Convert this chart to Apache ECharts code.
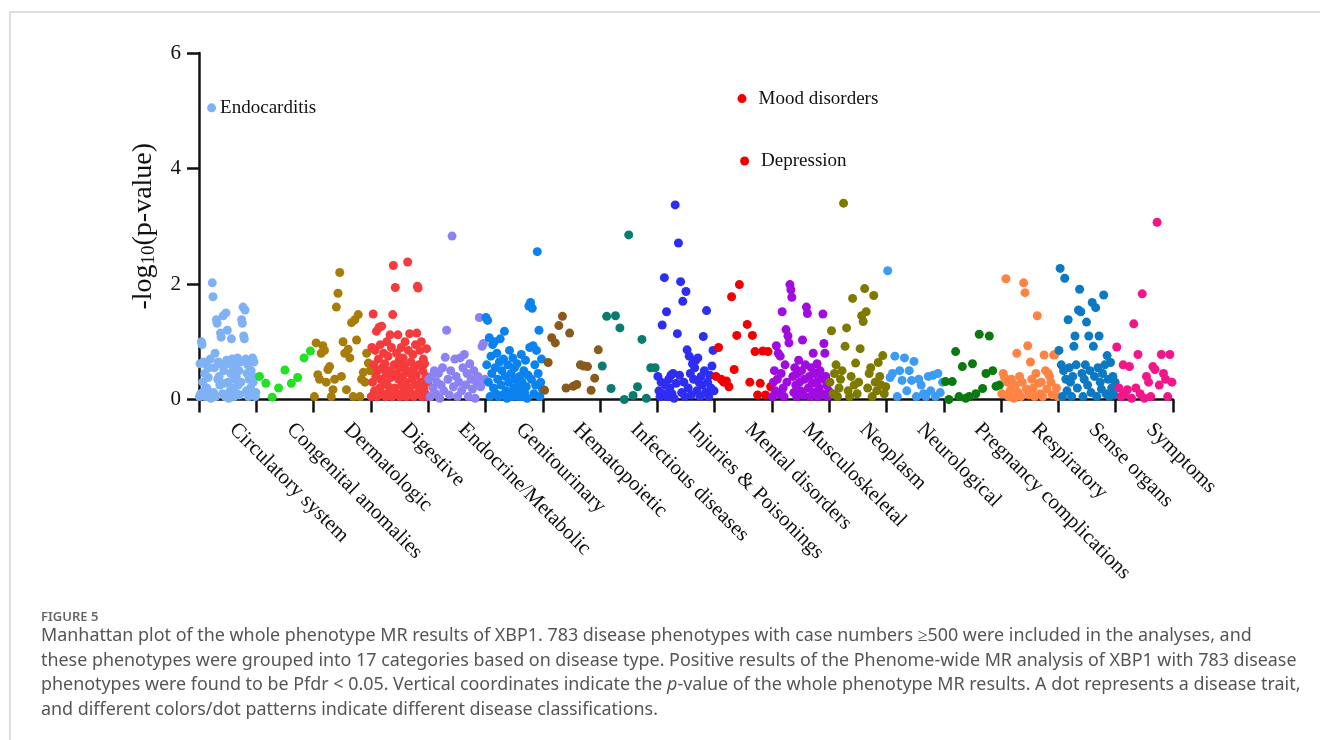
<!DOCTYPE html>
<html>
<head>
<meta charset="utf-8">
<script src="https://cdn.jsdelivr.net/npm/echarts@6/dist/echarts.min.js"></script>
<style>
html,body{margin:0;padding:0;background:#fff;}
#chart{width:1320px;height:740px;}
</style>
</head>
<body>
<div id="chart"></div>
<script>
const categories = ['Circulatory system','Congenital anomalies','Dermatologic','Digestive','Endocrine/Metabolic','Genitourinary','Hematopoietic','Infectious diseases','Injuries & Poisonings','Mental disorders','Musculoskeletal','Neoplasm','Neurological','Pregnancy complications','Respiratory','Sense organs','Symptoms'];
const colors = ['#7FB2F5','#22E022','#A87C0A','#F53B3B','#8C82F3','#0A82F0','#8A5A1C','#0A7B6F','#2E2EF2','#F20000','#A00BE0','#7E7A00','#3C9CF5','#0A7A10','#FF8444','#0C79C2','#F2168A'];

const circulatory = [0.05,0.62,0.1,1.0,0.95,0.3,0.65,0.15,0.45,0.05,0.6,0.2,0.08,0.38,0.55,0.12,0.7,0.02,5.05,2.02,1.78,0.12,0.55,0.8,0.05,1.38,1.32,0.35,0.65,0.4,0.25,1.15,1.08,0.6,0.1,1.45,0.5,0.28,0.05,1.5,0.68,1.2,0.3,0.02,0.62,0.15,0.45,1.05,0.7,0.2,0.55,0.05,0.35,0.6,0.4,0.1,0.72,0.25,0.5,0.08,0.65,0.3,1.38,1.32,1.6,1.1,1.05,1.55,0.7,0.15,0.45,0.6,0.05,0.35,0.68,0.2,0.5,0.1,0.72,0.3,0.65,0.38,0.05,0.12];
const congenital = [0.40,0.28,0.04,0.20,0.51,0.28,0.38,0.72,0.84];
const dermatologic = [0.05,0.98,0.43,0.35,0.8,0.93,0.85,0.3,0.52,0.57,0.05,0.17,0.35,1.6,1.84,2.2,0.4,1.0,0.8,0.17,0.87,0.72,1.33,0.05,1.38,1.03,1.47,0.05,0.35,0.47,0.3,0.8,0.63,0.5];
const digestive = [0.05,0.9,0.3,1.48,0.6,0.15,0.85,0.4,1.18,0.05,0.5,0.7,1.25,0.2,0.95,0.35,1.27,0.55,0.1,0.8,0.3,0.62,0.05,0.45,1.0,0.25,0.75,0.12,0.5,1.12,0.38,0.9,0.05,1.47,2.32,0.6,0.2,1.94,0.45,0.8,0.1,1.12,0.35,0.68,0.05,0.55,0.9,0.25,0.4,0.72,0.15,0.6,1.0,0.3,0.05,0.5,2.38,0.85,0.2,1.14,0.45,0.65,0.1,0.35,0.78,0.05,0.55,0.25,0.95,0.42,1.15,1.96,1.93,0.6,0.15,0.85,0.3,1.0,0.05,0.5,0.7,0.2,0.62,0.1,0.4,0.88,0.05,0.3];
const endocrine = [0.35,0.05,0.4,0.2,0.5,0.1,0.3,0.45,0.02,0.25,0.55,0.15,0.73,1.2,0.35,0.08,0.5,2.83,0.22,0.7,0.4,0.05,0.3,0.72,0.15,0.55,0.78,0.25,0.45,0.05,0.62,0.35,0.18,0.5,0.02,0.3,0.4,1.42,0.22,0.92,0.97,0.35];
const genitourinary = [1.42,0.6,1.37,0.3,1.07,0.05,0.75,0.45,0.95,0.2,1.0,0.55,0.1,0.8,0.35,0.05,0.65,1.05,0.25,0.5,0.08,0.7,1.18,0.4,0.15,0.02,0.6,0.3,0.85,0.1,0.45,0.05,0.72,0.2,0.55,0.35,0.08,0.62,0.25,0.05,0.4,0.15,0.78,0.3,0.05,0.5,0.12,0.68,0.22,0.02,0.42,1.62,0.9,1.68,0.35,1.58,0.93,0.1,0.6,0.25,0.85,2.56,0.45,1.2,0.05,0.3,0.7,0.18];
const hematopoietic = [0.16,0.64,1.07,0.98,1.28,1.44,0.2,1.15,0.23,0.26,0.6,0.58,0.57,0.16,0.37,0.86];
const infectious = [0.58,1.44,0.19,1.45,1.24,0.0,2.85,0.07,0.22,1.04,0.02,0.55,0.55];
const injuries = [0.4,0.15,0.05,0.3,1.29,0.1,2.11,0.25,1.52,0.05,0.35,0.2,0.42,0.1,0.45,0.02,3.37,0.28,1.14,2.71,0.42,2.04,0.12,1.7,0.3,0.05,1.87,0.86,0.2,0.75,0.45,0.08,0.62,0.35,0.55,0.68,0.15,0.72,0.3,0.05,0.4,0.25,1.09,0.5,0.12,1.54,0.3,0.05,0.42,0.2,0.58,0.85,0.15];
const mental = [0.4,0.9,0.35,0.3,0.32,0.22,1.78,0.52,1.11,1.99,5.21,4.13,1.3,0.3,1.11,0.83,0.08,0.28,0.84,0.08,0.83,0.22];
const musculoskeletal = [0.05,0.3,0.5,0.15,0.93,0.35,0.8,0.1,0.75,0.45,1.52,0.2,0.05,0.6,1.21,0.3,1.1,0.98,1.99,1.9,1.77,0.4,0.12,0.55,0.25,0.05,0.45,0.68,0.3,0.15,0.5,1.03,0.08,0.35,0.6,1.6,1.49,0.2,0.4,0.05,0.55,0.28,0.8,0.12,0.45,0.3,0.62,0.05,0.2,0.5,0.35,0.1,1.48,0.97,0.8,0.4,0.25,0.05,0.15];
const neoplasm = [0.3,1.19,0.1,0.45,0.6,0.05,0.2,0.35,0.5,3.4,0.92,1.24,0.15,0.05,0.4,1.75,0.25,0.63,0.1,0.3,0.88,1.45,1.35,1.92,1.52,0.2,0.45,0.55,0.05,1.8,0.3,0.15,0.64,0.4,0.25,0.76,0.1,0.22];
const neurological = [2.23,0.38,0.45,0.75,0.05,0.5,0.33,0.72,0.15,0.5,0.33,0.66,0.05,0.35,0.25,0.1,0.05,0.4,0.15,0.42,0.05,0.45,0.12,0.3];
const pregnancy = [0.31,0.0,0.31,0.83,0.05,0.57,0.02,0.05,0.62,0.1,1.13,0.19,0.45,1.1,0.5,0.23,0.25];
const respiratory = [0.1,0.45,0.38,2.09,0.3,0.05,0.15,0.35,0.2,0.02,0.25,0.8,0.12,0.4,0.05,0.3,2.02,1.85,0.18,0.93,0.08,0.65,0.35,0.2,0.05,0.45,1.45,0.28,0.1,0.3,0.05,0.77,0.5,0.18,0.45,0.4,0.3,0.08,0.77,0.78,0.2,0.05];
const senseOrgans = [0.85,2.27,0.6,0.05,0.5,2.1,0.35,0.15,1.38,0.55,0.3,0.05,0.4,0.92,1.1,0.6,0.2,1.55,1.91,1.52,0.45,0.05,0.35,0.6,1.34,0.25,1.1,0.5,0.12,1.68,0.92,0.4,1.59,0.05,0.55,1.1,0.3,0.18,0.45,1.81,0.6,0.1,0.76,0.35,0.05,0.64,0.2,0.4,0.08,0.3];
const symptoms = [0.91,0.2,0.05,0.6,0.1,0.17,0.57,0.02,1.31,0.2,0.78,0.1,1.83,0.02,0.4,0.3,0.05,0.57,0.52,3.07,0.25,0.78,0.45,0.35,0.05,0.78,0.3];

const allValues = [circulatory,congenital,dermatologic,digestive,endocrine,genitourinary,hematopoietic,infectious,injuries,mental,musculoskeletal,neoplasm,neurological,pregnancy,respiratory,senseOrgans,symptoms];
const highlightCats = [0, 9, 9];
const highlightValues = [5.05, 5.21, 4.13];
const highlightNames = ['Endocarditis', 'Mood disorders', 'Depression'];
const highlightGaps = [4, 12, 12];
const yTicks = [0, 2, 4, 6];
const captionTitle = 'FIGURE 5';
const captionLines = [
  'Manhattan plot of the whole phenotype MR results of XBP1. 783 disease phenotypes with case numbers \u2265500 were included in the analyses, and',
  'these phenotypes were grouped into 17 categories based on disease type. Positive results of the Phenome-wide MR analysis of XBP1 with 783 disease',
  'phenotypes were found to be Pfdr < 0.05. Vertical coordinates indicate the {i|p}-value of the whole phenotype MR results. A dot represents a disease trait,',
  'and different colors/dot patterns indicate different disease classifications.'
];

const series = categories.map((name, k) => {
  const vals = allValues[k];
  return {
    name: name,
    type: 'scatter',
    xAxisIndex: 0,
    symbol: 'circle',
    symbolSize: 9,
    itemStyle: { color: colors[k], opacity: 1 },
    z: 3,
    data: vals.map((v, i) => {
      const item = { value: [k + (i + 0.5) / vals.length, v] };
      for (let h = 0; h < highlightNames.length; h++) {
        if (highlightCats[h] === k && highlightValues[h] === v) {
          item.label = {
            show: true, position: 'right', distance: highlightGaps[h],
            formatter: highlightNames[h],
            fontFamily: 'Liberation Serif', fontSize: 19, color: '#111'
          };
        }
      }
      return item;
    })
  };
});

const captionGraphics = captionLines.map((t, i) => ({
  type: 'text', silent: true,
  style: {
    x: 41, y: 636 + i * 24.7, text: t, verticalAlign: 'middle', align: 'left',
    fontFamily: 'Noto Sans', fontSize: 17.9, fill: '#555',
    rich: { i: { fontFamily: 'Noto Sans', fontSize: 17.9, fontStyle: 'italic', fill: '#555' } }
  }
}));

const chart = echarts.init(document.getElementById('chart'), null, { renderer: 'canvas' });
chart.setOption({
  backgroundColor: '#fff',
  animation: false,
  grid: { left: 199, right: 147, top: 53, bottom: 340.5, containLabel: false },
  xAxis: [
    { type: 'value', min: 0, max: categories.length, show: false },
    {
      type: 'category', data: categories, position: 'bottom', boundaryGap: true,
      axisLine: { show: true, lineStyle: { color: '#111', width: 2.5 } },
      axisTick: { show: true, length: 13, interval: 0, lineStyle: { color: '#111', width: 2.5 } },
      axisLabel: { interval: 0, rotate: -45, margin: 22, padding: [0, 0, 0, 7], fontFamily: 'Liberation Serif', fontSize: 21, color: '#111' },
      splitLine: { show: false }
    }
  ],
  yAxis: {
    type: 'value', min: yTicks[0], max: yTicks[yTicks.length - 1], interval: 2,
    name: '-log{s|10}(p-value)', nameLocation: 'middle', nameGap: 40, nameRotate: 90,
    nameTextStyle: {
      fontFamily: 'Liberation Serif', fontSize: 28, color: '#111',
      rich: { s: { fontFamily: 'Liberation Serif', fontSize: 19, color: '#111', padding: [11, 0, 0, 0] } }
    },
    axisLine: { show: true, lineStyle: { color: '#111', width: 2.5 } },
    axisTick: { show: true, length: 12, lineStyle: { color: '#111', width: 2.5 } },
    axisLabel: { margin: 18, fontFamily: 'Liberation Serif', fontSize: 21, color: '#111' },
    splitLine: { show: false }
  },
  series: series,
  graphic: [
    { type: 'rect', silent: true, shape: { x: 10, y: 12, width: 1400, height: 800 }, style: { fill: 'none', stroke: '#d4d4d4', lineWidth: 1.5 } },
    { type: 'text', silent: true, style: { x: 41, y: 617, text: captionTitle, verticalAlign: 'middle', fontFamily: 'Noto Sans', fontSize: 13, fontWeight: 600, fill: '#666' } }
  ].concat(captionGraphics)
});
</script>
</body>
</html>
